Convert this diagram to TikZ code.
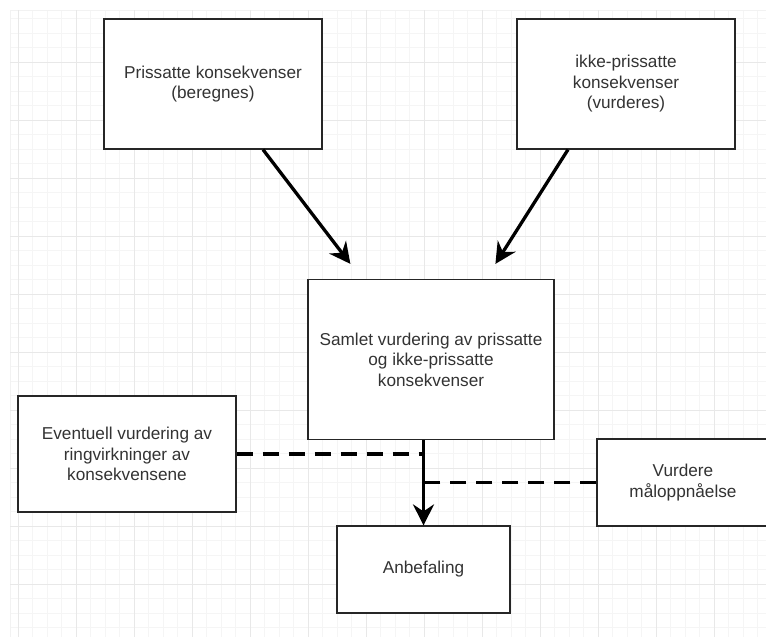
\documentclass[tikz,border=0pt]{standalone}
\usepackage{fontspec}
\setmainfont{Liberation Sans}
\usetikzlibrary{arrows.meta}
\begin{document}
\begin{tikzpicture}[x=1pt,y=-1pt,
  box/.style={draw=black!85,line width=1.2pt,fill=white,rectangle,align=center,
    inner sep=2pt,text=black!80,font=\fontsize{17.2pt}{20.5pt}\selectfont},
  arr/.style={line width=3.3pt,-{Stealth[length=21pt,width=21pt,inset=7pt]}},
  dsh/.style={line width=3.3pt,dash pattern=on 16pt off 10pt}]
\useasboundingbox (0,0) rectangle (766,637);
\fill[white] (0,0) rectangle (766,637);
% grid
\foreach \k in {0,...,51} \draw[black!4,line width=0.8pt] ({18+14.5*\k},10) -- ({18+14.5*\k},637);
\foreach \k in {1,...,43} \draw[black!4,line width=0.8pt] (10,{4+14.5*\k}) -- (766,{4+14.5*\k});
\draw[black!5,line width=0.8pt] (10,10) -- (10,637);
\draw[black!5,line width=0.8pt] (10,10) -- (766,10);
\foreach \k in {0,...,12} \draw[black!9,line width=0.8pt] ({18+58*\k},10) -- ({18+58*\k},637);
\foreach \k in {1,...,10} \draw[black!9,line width=0.8pt] (10,{4+58*\k}) -- (766,{4+58*\k});
% nodes
\node[box,minimum width=218pt,minimum height=130pt] (p1) at (213,84) {Prissatte konsekvenser\\(beregnes)};
\node[box,minimum width=218pt,minimum height=130pt] (p2) at (626,84) {ikke-prissatte\\konsekvenser\\(vurderes)};
\node[box,minimum width=246pt,minimum height=160pt] (c) at (431,359.5) {Samlet vurdering av prissatte\\og ikke-prissatte\\konsekvenser};
\node[box,minimum width=218pt,minimum height=116pt] (l) at (127,454) {Eventuell vurdering av\\ringvirkninger av\\konsekvensene};
\node[box,minimum width=172pt,minimum height=87pt] (r) at (683,482.5) {Vurdere\\måloppnåelse};
\node[box,minimum width=173pt,minimum height=87pt] (b) at (423.5,569.5) {Anbefaling};
% connectors
\coordinate (t1) at ([shift={(43,-15)}]c.north west);
\coordinate (t2) at ([shift={(188,-15)}]c.north west);
\draw[arr] ([xshift=50pt]p1.south) -- (t1);
\draw[arr] ([xshift=-58pt]p2.south) -- (t2);
\coordinate (j1) at (b.north |- l.east);
\coordinate (j2) at (b.north |- r.west);
\draw[dsh] (l.east) -- (j1);
\draw[dsh] (r.west) -- (j2);
\draw[arr] (b.north |- c.south) -- (b.north);
\end{tikzpicture}
\end{document}
